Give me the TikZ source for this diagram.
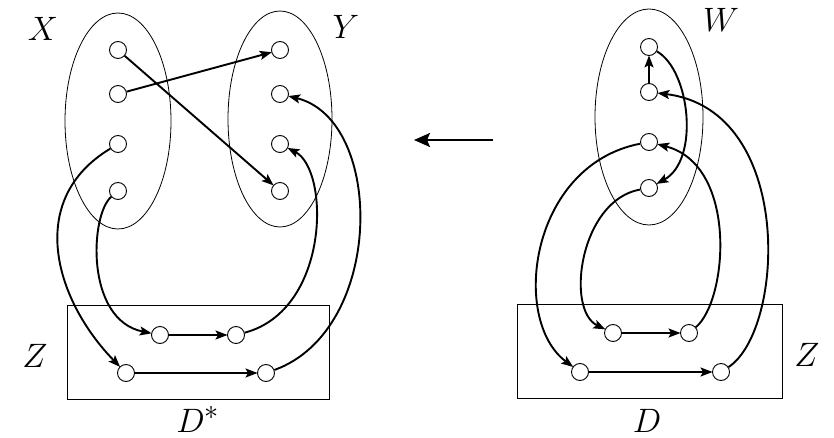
\documentclass[tikz,border=0pt]{standalone}
\usepackage{graphicx}
\usetikzlibrary{arrows.meta}
\newcommand{\biglbl}[1]{\scalebox{1.36}{\Huge$#1$}}
\begin{document}
\begin{tikzpicture}[x=1pt,y=-1pt,
  vtx/.style={circle,draw,line width=0.9pt,fill=white,inner sep=0pt,minimum size=17pt},
  set/.style={draw,line width=0.8pt},
  arr/.style={line width=1.9pt,-{Stealth[length=12pt,width=9pt,inset=2.5pt]},shorten >=-0.5pt},
  lbl/.style={inner sep=0pt,anchor=base}]
\useasboundingbox (0,0) rectangle (834,438);
% sets
\draw[set] (118,121) ellipse [x radius=53, y radius=108];
\draw[set] (280,119) ellipse [x radius=52, y radius=108];
\draw[set] (649,117) ellipse [x radius=54, y radius=108];
\draw[set] (67,305) rectangle (329,399);
\draw[set] (517,304) rectangle (782,398);
% labels
\node[lbl] (lx) at (43,41) {\biglbl{X}};
\node[lbl] (ly) at (346,39) {\biglbl{Y}};
\node[lbl] (lw) at (721,32) {\biglbl{W}};
\node[lbl] (lz1) at (35,367) {\biglbl{Z}};
\node[lbl] (lz2) at (807,366) {\biglbl{Z}};
\node[lbl] (ld1) at (198,432) {\biglbl{D^*}};
\node[lbl] (ld2) at (647,432) {\biglbl{D}};
% left vertices
\node[vtx] (x1) at (118,50) {};
\node[vtx] (x2) at (118,94) {};
\node[vtx] (x3) at (118,144) {};
\node[vtx] (x4) at (118,191) {};
\node[vtx] (y1) at (280,50) {};
\node[vtx] (y2) at (280,94) {};
\node[vtx] (y3) at (280,144) {};
\node[vtx] (y4) at (280,191) {};
\node[vtx] (zt1) at (160,335) {};
\node[vtx] (zt2) at (236,335) {};
\node[vtx] (zb1) at (126,373) {};
\node[vtx] (zb2) at (266,373) {};
% right vertices
\node[vtx] (w1) at (649,47) {};
\node[vtx] (w2) at (649,92) {};
\node[vtx] (w3) at (649,142) {};
\node[vtx] (w4) at (649,188) {};
\node[vtx] (rt1) at (613,333) {};
\node[vtx] (rt2) at (689,333) {};
\node[vtx] (rb1) at (580,372) {};
\node[vtx] (rb2) at (721,372) {};
% left edges
\draw[arr] (x1) -- (y4);
\draw[arr] (x2) -- (y1);
\draw[arr] (x3) .. controls (25,200) and (55,300) .. (zb1);
\draw[arr] (x4) .. controls (90,215) and (85,320) .. (zt1);
\draw[arr] (zt1) -- (zt2);
\draw[arr] (zb1) -- (zb2);
\draw[arr] (zt2) .. controls (330,310) and (330,170) .. (y3);
\draw[arr] (zb2) .. controls (385,330) and (385,120) .. (y2);
% right edges
\draw[arr] (w2) -- (w1);
\draw[arr] (w1) .. controls (690,70) and (700,160) .. (w4);
\draw[arr] (w3) .. controls (530,165) and (510,320) .. (rb1);
\draw[arr] (w4) .. controls (580,200) and (565,310) .. (rt1);
\draw[arr] (rt1) -- (rt2);
\draw[arr] (rb1) -- (rb2);
\draw[arr] (rt2) .. controls (728,300) and (738,165) .. (w3);
\draw[arr] (rb2) .. controls (785,330) and (795,110) .. (w2);
% big arrow
\coordinate (ba1) at (493,140);
\coordinate (ba2) at (414,140);
\draw[line width=2.2pt,-{Stealth[length=16pt,width=14pt,inset=3pt]}] (ba1) -- (ba2);
\end{tikzpicture}
\end{document}
